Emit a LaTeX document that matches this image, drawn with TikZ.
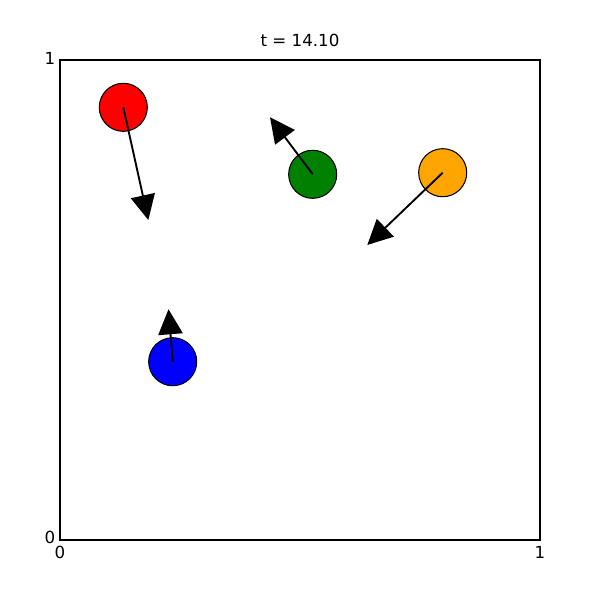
\documentclass[tikz,border=0pt]{standalone}
\usepackage{fontspec}
\setmainfont{DejaVu Sans}
\usetikzlibrary{arrows.meta}
\definecolor{mplgreen}{HTML}{008000}
\definecolor{mplorange}{HTML}{FFA500}
\definecolor{mplblue}{HTML}{0000FF}
\definecolor{mplred}{HTML}{FF0000}
\begin{document}
\begin{tikzpicture}[x=0.72pt,y=-0.72pt,
  ball/.style={circle,draw=black,line width=0.75pt,minimum size=34.6pt,inner sep=0pt},
  vel/.style={line width=1.35pt,-{Triangle[length=18pt,width=17.5pt]}},
  lbl/.style={font=\fontsize{12}{14}\selectfont,inner sep=0pt}]
\useasboundingbox (0,0) rectangle (600,600);
\fill[white] (0,0) rectangle (600,600);
\draw[line width=0.8pt] (60,60) rectangle (540,540);
\node[lbl,anchor=base] (title) at (300,46) {t = 14.10};
\node[lbl] (y1) at (50,58) {1};
\node[lbl] (y0) at (50,537) {0};
\node[lbl] (x0) at (60,552) {0};
\node[lbl] (x1) at (540,552) {1};
\node[ball,fill=mplred] (r) at (123.3,107.3) {};
\node[ball,fill=mplgreen] (g) at (312.7,174.3) {};
\node[ball,fill=mplorange] (o) at (442.7,172.7) {};
\node[ball,fill=mplblue] (b) at (172.7,361.7) {};
\coordinate (rt) at (148.3,220);
\coordinate (gt) at (270,117.3);
\coordinate (ot) at (367.3,245);
\coordinate (bt) at (168.5,309.3);
\draw[vel] (r.center) -- (rt);
\draw[vel] (g.center) -- (gt);
\draw[vel] (o.center) -- (ot);
\draw[vel] (b.center) -- (bt);
\end{tikzpicture}
\end{document}
